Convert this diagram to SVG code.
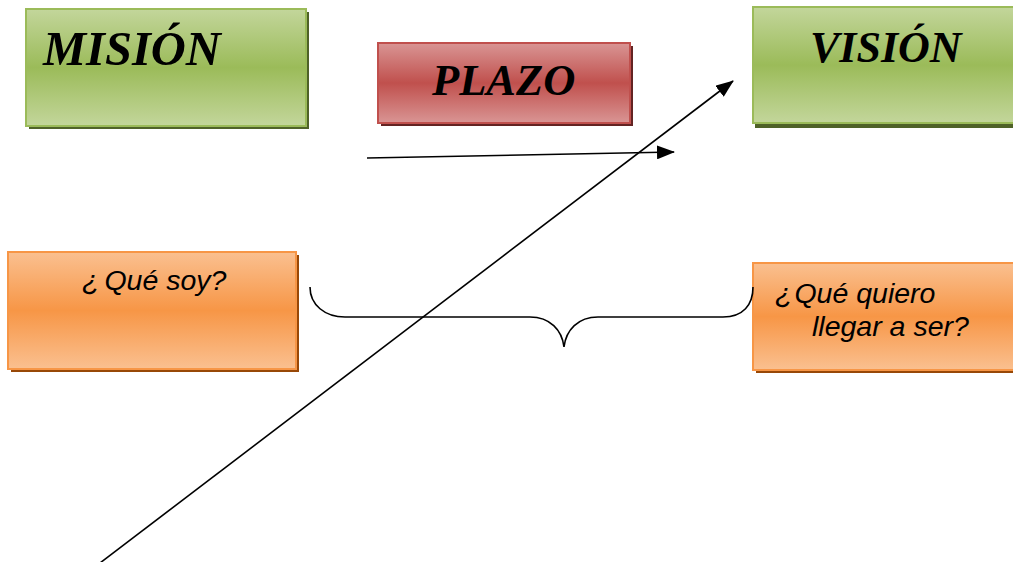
<svg xmlns="http://www.w3.org/2000/svg" width="1013" height="562" viewBox="0 0 1013 562">
<style>
.title{font-family:"Liberation Serif","Times New Roman",serif;font-weight:bold;font-style:italic;fill:#000}
.q{font-family:"Liberation Sans",Arial,sans-serif;font-style:italic;font-size:28.5px;fill:#000}
.green{fill:url(#gG);stroke:#9BBB59;stroke-width:2}
.red{fill:url(#gR);stroke:#C0504D;stroke-width:2}
.orange{fill:url(#gO);stroke:#F79646;stroke-width:2}
.shG{fill:#4F6228}
.shR{fill:#632423}
.shO{fill:#984807}
.conn{fill:none;stroke:#000;stroke-width:1.6}
</style>
<defs>
<linearGradient id="gG" x1="0" y1="0" x2="0" y2="1">
<stop offset="0" stop-color="#C3D69B"/><stop offset="0.5" stop-color="#9BBB59"/><stop offset="1" stop-color="#C3D69B"/>
</linearGradient>
<linearGradient id="gR" x1="0" y1="0" x2="0" y2="1">
<stop offset="0" stop-color="#D99594"/><stop offset="0.5" stop-color="#C0504D"/><stop offset="1" stop-color="#D99594"/>
</linearGradient>
<linearGradient id="gO" x1="0" y1="0" x2="0" y2="1">
<stop offset="0" stop-color="#FAC090"/><stop offset="0.5" stop-color="#F79646"/><stop offset="1" stop-color="#FAC090"/>
</linearGradient>
<marker id="ah2" viewBox="0 0 18 14" refX="17" refY="7" markerWidth="18" markerHeight="14" orient="auto" markerUnits="userSpaceOnUse">
<path d="M0,0 L18,7 L0,14 Z" fill="#000"/>
</marker>
</defs>

<g id="mision">
<rect class="shG" x="29" y="12" width="280" height="117"/>
<rect class="green" x="26" y="9" width="280" height="117"/>
<text class="title" x="43" y="65" font-size="48.5">MISIÓN</text>
</g>

<g id="plazo">
<rect class="shR" x="381" y="46" width="252" height="80"/>
<rect class="red" x="378" y="43" width="252" height="80"/>
<text class="title" x="432" y="95" font-size="44.5">PLAZO</text>
</g>

<g id="vision">
<rect class="shG" x="755" y="11" width="270" height="117"/>
<rect class="green" x="753" y="7" width="270" height="116"/>
<text class="title" x="810" y="62" font-size="44">VISIÓN</text>
</g>

<g id="que-soy">
<rect class="shO" x="11" y="255" width="288" height="117"/>
<rect class="orange" x="8" y="252" width="288" height="117"/>
<text class="q" x="82" y="290" font-size="27">¿<tspan dx="5" font-size="28.5">Qué soy?</tspan></text>
</g>

<g id="que-quiero">
<rect class="shO" x="756" y="266" width="270" height="107"/>
<rect class="orange" x="753" y="263" width="270" height="107"/>
<text class="q" x="775" y="303">¿<tspan dx="2">Qué quiero</tspan></text>
<text class="q" x="812" y="336">llegar a ser?</text>
</g>

<g id="connectors">
<path class="conn" d="M310,287 C310,305 325,317 345,317 L530,317 C550,317 562,330 564,347 C566,330 578,317 598,317 L723,317 C743,317 753,305 753,287"/>
<line class="conn" x1="100" y1="563" x2="733" y2="81" marker-end="url(#ah2)"/>
<line class="conn" x1="367" y1="158" x2="674" y2="152" marker-end="url(#ah2)"/>
</g>
</svg>
